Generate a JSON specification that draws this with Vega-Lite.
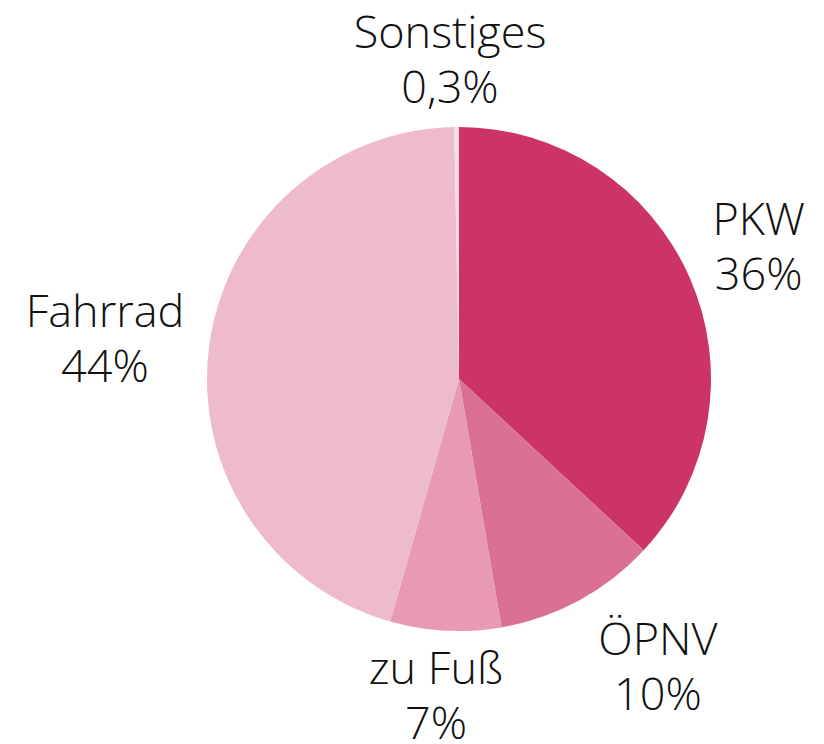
{
  "$schema": "https://vega.github.io/schema/vega-lite/v6.json",
  "width": 730,
  "height": 730,
  "autosize": {"type": "none"},
  "padding": {"left": 94, "top": 14, "right": 0, "bottom": 0},
  "background": "white",
  "config": {
    "view": {"stroke": null},
    "text": {
      "font": "Open Sans",
      "fontSize": 45,
      "fontWeight": 300,
      "lineBreak": "\n",
      "lineHeight": 55,
      "align": "center",
      "baseline": "middle",
      "color": "#111111"
    }
  },
  "data": {
    "values": [
      {"kategorie": "PKW", "anteil": 36.9, "label": "PKW\n36%", "ord": 1},
      {"kategorie": "ÖPNV", "anteil": 10.4, "label": "ÖPNV\n10%", "ord": 2},
      {"kategorie": "zu Fuß", "anteil": 7.1, "label": "zu Fuß\n7%", "ord": 3},
      {"kategorie": "Fahrrad", "anteil": 45.3, "label": "Fahrrad\n44%", "ord": 4},
      {"kategorie": "Sonstiges", "anteil": 0.3, "label": "Sonstiges\n0,3%", "ord": 5}
    ]
  },
  "encoding": {
    "theta": {"field": "anteil", "type": "quantitative", "stack": true},
    "order": {"field": "ord", "type": "quantitative"}
  },
  "layer": [
    {
      "mark": {"type": "arc", "outerRadius": 252},
      "encoding": {
        "color": {
          "field": "kategorie",
          "type": "nominal",
          "scale": {
            "domain": ["PKW", "ÖPNV", "zu Fuß", "Fahrrad", "Sonstiges"],
            "range": ["#cc3366", "#db7096", "#e899b4", "#eebbcc", "#f8dce6"]
          },
          "legend": null
        }
      }
    },
    {
      "mark": {"type": "text", "radius": 318, "dx": -6, "dy": -27},
      "encoding": {
        "text": {"field": "label"},
        "opacity": {"condition": {"test": "datum.kategorie === 'Sonstiges' || datum.kategorie === 'zu Fuß'", "value": 1}, "value": 0}
      }
    },
    {
      "mark": {"type": "text", "radius": 327, "dy": -27},
      "encoding": {
        "text": {"field": "label"},
        "opacity": {"condition": {"test": "datum.kategorie === 'PKW'", "value": 1}, "value": 0}
      }
    },
    {
      "mark": {"type": "text", "radius": 340, "dx": 37, "dy": -37},
      "encoding": {
        "text": {"field": "label"},
        "opacity": {"condition": {"test": "datum.kategorie === 'ÖPNV'", "value": 1}, "value": 0}
      }
    },
    {
      "mark": {"type": "text", "radius": 357, "dy": -20},
      "encoding": {
        "text": {"field": "label"},
        "opacity": {"condition": {"test": "datum.kategorie === 'Fahrrad'", "value": 1}, "value": 0}
      }
    }
  ]
}
